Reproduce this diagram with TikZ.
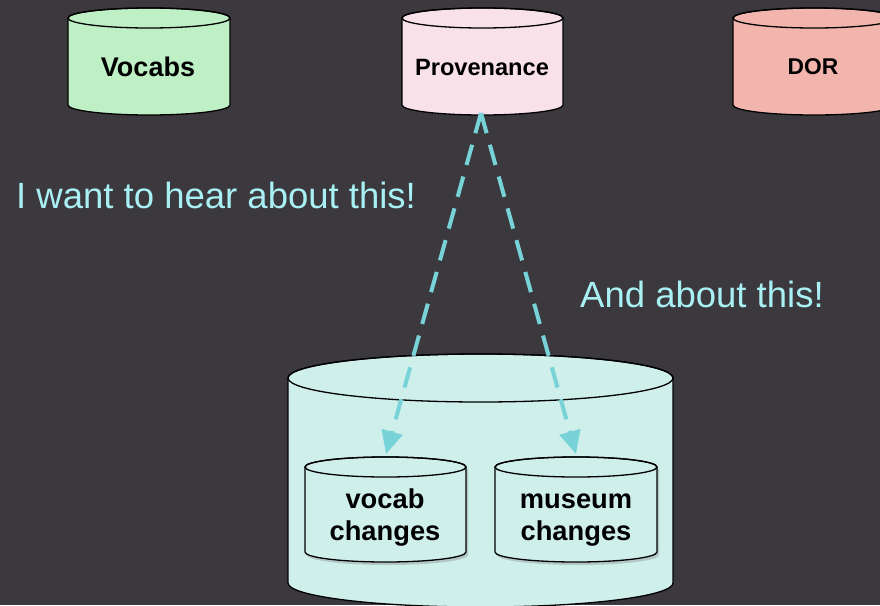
\documentclass[tikz,border=0pt]{standalone}
\usepackage{fontspec}
\setmainfont{Liberation Sans}
\usetikzlibrary{arrows.meta,shadows}
\definecolor{bg}{RGB}{60,57,62}
\definecolor{vocabfill}{RGB}{190,239,197}
\definecolor{provfill}{RGB}{249,225,234}
\definecolor{dorfill}{RGB}{242,181,174}
\definecolor{storefill}{RGB}{207,239,235}
\definecolor{notecol}{RGB}{168,240,243}
\definecolor{arrowcol}{RGB}{120,211,216}
% #1 left x, #2 right x, #3 top centre y, #4 bottom centre y, #5 ry, #6 style
\newcommand\mycyl[6]{%
  \pgfmathsetmacro\cylrx{(#2-#1)/2}%
  \path[cylstyle,#6] (#1,-#3) -- (#1,-#4)
    arc[start angle=180,end angle=360,x radius=\cylrx pt,y radius=#5pt]
    -- (#2,-#3)
    arc[start angle=0,end angle=180,x radius=\cylrx pt,y radius=#5pt] -- cycle;
  \draw[line width=1.3pt] ({(#1+#2)/2},-#3) ellipse[x radius=\cylrx pt,y radius=#5pt];
}
\tikzset{
  cylstyle/.style={draw=black,line width=1.3pt},
  cyllabel/.style={font=\bfseries,text=black,align=center,inner sep=0pt},
  note/.style={text=notecol,font=\fontsize{36.5}{40}\selectfont,inner sep=0pt},
  flow/.style={draw=arrowcol,line width=4pt,dash pattern=on 21pt off 12pt,
    -{Triangle[length=23pt,width=21pt]}},
  smallshadow/.style={drop shadow={opacity=0.35,shadow xshift=2pt,shadow yshift=-3pt}},
}
\begin{document}
\begin{tikzpicture}[x=1pt,y=1pt]
\fill[bg] (0,0) rectangle (880,-605);
\useasboundingbox (0,0) rectangle (880,-605);

% top stores
\mycyl{68}{230}{18}{105}{10}{fill=vocabfill}
\mycyl{402}{563}{18}{105}{10}{fill=provfill}
\mycyl{733}{895}{18}{105}{10}{fill=dorfill}
\node[cyllabel,font=\bfseries\fontsize{27}{30}\selectfont] (vocabs) at (148,-67) {Vocabs};
\node[cyllabel,font=\bfseries\fontsize{23.6}{27}\selectfont] (prov) at (482,-67) {Provenance};
\node[cyllabel,font=\bfseries\fontsize{22.8}{27}\selectfont] (dor) at (813,-67) {DOR};

% big store
\mycyl{288}{673}{378}{583}{24}{fill=storefill}
\mycyl{305}{466}{467}{552}{10}{fill=storefill,smallshadow}
\mycyl{495}{657}{467}{552}{10}{fill=storefill,smallshadow}
\node[cyllabel,font=\bfseries\fontsize{27.3}{32}\selectfont,anchor=base] (vch) at (385,-540) {vocab\\changes};
\node[cyllabel,font=\bfseries\fontsize{27.3}{32}\selectfont,anchor=base] (mch) at (576,-540) {museum\\changes};

% connectors
\coordinate (src) at (481,-113);
\coordinate (vtip) at (386,-454);
\coordinate (mtip) at (576,-454);
\draw[flow] (src) -- (vtip);
\draw[flow] (src) -- (mtip);

% notes
\node[note,anchor=base west] (n1) at (16,-208) {I want to hear about this!};
\node[note,anchor=base west] (n2) at (580,-307) {And about this!};
\end{tikzpicture}
\end{document}
